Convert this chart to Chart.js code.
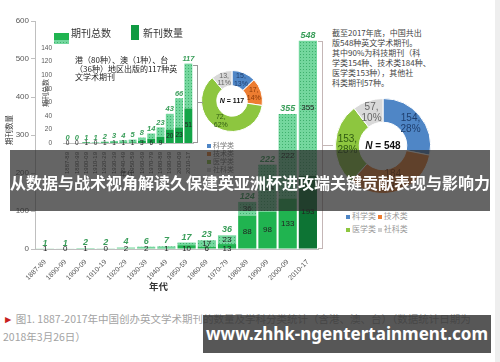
<!DOCTYPE html>
<html>
<head>
<meta charset="utf-8">
<script src="https://cdn.jsdelivr.net/npm/chart.js@4/dist/chart.umd.min.js"></script>
<style>
body{margin:0;background:#fff;font-family:"Noto Sans CJK SC","Noto Sans",sans-serif;}
#page{position:relative;width:500px;height:362px;overflow:hidden;background:#fff;}
#page canvas{position:absolute;}
.t{position:absolute;white-space:nowrap;}
.rot{position:absolute;white-space:nowrap;transform:translate(-50%,-50%) rotate(-90deg);}
.ln{position:absolute;background:#c4b6b6;}
.sq{display:inline-block;width:4px;height:4px;margin-right:2px;vertical-align:middle;}
</style>
</head>
<body>
<div id="page">
  <canvas id="main" width="330" height="300" style="left:0;top:0"></canvas>
  <canvas id="inset" width="165" height="170" style="left:38px;top:38px"></canvas>
  <canvas id="pieHk" width="62" height="62" style="left:201px;top:70px"></canvas>
  <canvas id="pieAll" width="96" height="96" style="left:335px;top:98px"></canvas>

  <!-- main legend -->
  <div class="t" style="left:54px;top:25px;width:15px;height:8px" id="legTop"></div>
  <div class="t" style="left:54px;top:33px;width:15px;height:7px;background:#20b450"></div>
  <div class="t" style="left:71px;top:25px;font-size:10px;line-height:15px;color:#333">期刊总数</div>
  <div class="t" style="left:131px;top:25px;width:8px;height:15px;background:#109a42"></div>
  <div class="t" style="left:143px;top:25px;font-size:10px;line-height:15px;color:#333">新刊数量</div>

  <div class="rot" style="left:8px;top:130px;font-size:7.5px;color:#333">期刊数量</div>
  <div class="t" style="left:149px;top:279px;font-size:9.5px;font-weight:bold;color:#333">年代</div>

  <!-- inset texts -->
  <div class="rot" style="left:45px;top:93px;font-size:7px;color:#444">期刊总数</div>
  <div class="t" style="left:75px;top:56px;font-size:8px;line-height:8.5px;color:#222">港（80种）、澳（1种）、台<br>（36种）地区出版的117种英<br>文学术期刊</div>
  <div class="t" style="left:120px;top:168px;font-size:7px;color:#444">年代</div>

  <!-- doughnut legends -->
  <div class="t" style="left:207px;top:141px;font-size:7px;line-height:8px;color:#777">
    <span class="sq" style="background:#4f86c6"></span>科学类<br>
    <span class="sq" style="background:#ed7d31"></span>技术类<br>
    <span class="sq" style="background:#8dc63f"></span>医学类<br>
    <span class="sq" style="background:#d0d0d0"></span>社科类</div>
  <div class="t" style="left:346px;top:209px;font-size:8px;line-height:13px;color:#999">
    <span class="sq" style="background:#4f86c6"></span>科学类 <span class="sq" style="background:#ed7d31"></span>技术类<br>
    <span class="sq" style="background:#8dc63f"></span>医学类 <span class="sq" style="background:#d0d0d0"></span>社科类</div>

  <div class="t" style="left:332px;top:28px;font-size:8px;line-height:10px;color:#444">截至2017年底，中国共出<br>版548种英文学术期刊。<br>其中90%为科技期刊（科<br>学类154种、技术类184种、<br>医学类153种），其他社<br>科类期刊57种。</div>

  <!-- brackets -->
  <div class="ln" style="left:322px;top:41px;width:1px;height:208px"></div>
  <div class="ln" style="left:318px;top:41px;width:4px;height:1px"></div>
  <div class="ln" style="left:318px;top:248px;width:4px;height:1px"></div>
  <div class="ln" style="left:322px;top:145px;width:11px;height:1px"></div>
  <div class="ln" style="left:197px;top:65px;width:1px;height:78px;background:#999"></div>
  <div class="ln" style="left:193px;top:65px;width:4px;height:1px;background:#999"></div>
  <div class="ln" style="left:193px;top:142px;width:4px;height:1px;background:#999"></div>
  <div class="ln" style="left:197px;top:102px;width:6px;height:1px;background:#999"></div>

  <div class="t" style="left:495px;top:0;width:5px;height:362px;background:#eeeeee"></div>

  <!-- caption -->
  <div class="t" style="left:3px;top:310px;font-size:10.5px;line-height:18px;color:#a3a3a3"><span style="color:#c81e1e">►</span> 图1. 1887-2017年中国创办英文学术期刊的数量及学科分类统计（含港、澳、台）（数据统计日期为<br>2018年3月26日）</div>

  <!-- overlays -->
  <div class="t" style="left:10px;top:150px;width:480px;height:61px;background:rgba(42,42,42,0.72);color:#fff;font-size:16px;font-weight:bold;line-height:64px;text-align:center">从数据与战术视角解读久保建英亚洲杯进攻端关键贡献表现与影响力</div>
  <div class="t" style="left:203px;top:315px;width:288px;height:38px;background:rgba(50,50,50,0.82);color:#fff;font-family:'Noto Sans',sans-serif;font-size:17px;font-weight:bold;line-height:38px;text-align:center">www.zhhk-ngentertainment.com</div>
</div>

<script>
// decades on the x axis
const decades = ['1887-89', '1890-99', '1900-09', '1910-19', '1920-29', '1930-39', '1940-49',
  '1950-59', '1960-69', '1970-79', '1980-89', '1990-99', '2000-09', '2010-17'];

// all journals: total, new in the decade, total before the decade
const totalCount = [1, 1, 2, 2, 4, 6, 7, 17, 23, 36, 124, 222, 355, 548];
const newCount = [1, 0, 1, 0, 2, 2, 1, 10, 6, 13, 88, 98, 133, 193];
const prevCount = [0, 1, 1, 2, 2, 4, 6, 7, 17, 23, 36, 124, 222, 355];

// Hong Kong, Macau, Taiwan journals
const hkTotal = [0, 0, 1, 1, 2, 3, 4, 5, 8, 14, 23, 43, 66, 117];
const hkNew = [0, 0, 1, 0, 1, 1, 1, 1, 3, 6, 9, 20, 23, 51];
const hkPrev = [0, 0, 0, 1, 1, 2, 3, 4, 5, 8, 14, 23, 43, 66];

// subject split
const subjects = ['科学类', '技术类', '医学类', '社科类'];
const hkSubject = [15, 17, 72, 13];
const hkPercent = ['13%', '14%', '62%', '11%'];
const allSubject = [154, 184, 153, 57];
const allPercent = ['28%', '34%', '28%', '10%'];

const numFont = '"Liberation Sans", "Noto Sans CJK SC", sans-serif';
const pieColors = ['#4f86c6', '#ed7d31', '#8dc63f', '#d9d9d9'];
const pieText = ['#1f3f6e', '#8a3a08', '#2f5a12', '#666666'];

function dotted() {
  const c = document.createElement('canvas');
  c.width = 3; c.height = 3;
  const x = c.getContext('2d');
  x.fillStyle = '#74d79e';
  x.fillRect(0, 0, 3, 3);
  x.fillStyle = '#3fb06d';
  x.fillRect(0, 0, 1, 1);
  return x.createPattern(c, 'repeat');
}

// legend swatch top half
(function () {
  const c = document.createElement('canvas');
  c.width = 15; c.height = 8;
  const x = c.getContext('2d');
  x.fillStyle = dotted();
  x.fillRect(0, 0, 15, 8);
  document.getElementById('legTop').appendChild(c);
  c.style.position = 'static';
})();

function stackLabels(totals, news, prevs, s) {
  return {
    id: 'stackLabels',
    afterDatasetsDraw(chart) {
      const ctx = chart.ctx;
      const newMeta = chart.getDatasetMeta(0);
      const prevMeta = chart.getDatasetMeta(1);
      ctx.save();
      ctx.textAlign = 'center';
      newMeta.data.forEach((bar, i) => {
        const top = prevMeta.data[i];
        ctx.font = s.totalFont;
        ctx.fillStyle = '#3a9e5a';
        ctx.textBaseline = 'bottom';
        ctx.fillText(totals[i], top.x, top.y - 1);

        ctx.font = s.innerFont;
        ctx.fillStyle = '#222';
        ctx.textBaseline = 'middle';
        const h = bar.base - bar.y;
        ctx.fillText(news[i], bar.x, h > s.minH ? (bar.y + bar.base) / 2 : bar.base);
        if (s.prevMin && prevs[i] >= s.prevMin) {
          ctx.fillText(prevs[i], top.x, (top.y + top.base) / 2);
        }
      });
      ctx.restore();
    }
  };
}

const pattern = dotted();

new Chart(document.getElementById('main'), {
  type: 'bar',
  data: {
    labels: decades,
    datasets: [
      { label: '新刊数量', data: newCount, stack: 'a',
        backgroundColor: newCount.map((v, i) => i === newCount.length - 1 ? '#0d7434' : '#20b450') },
      { label: '期刊总数', data: prevCount, stack: 'a', backgroundColor: pattern }
    ]
  },
  options: {
    responsive: false,
    animation: false,
    barPercentage: 0.9,
    categoryPercentage: 1,
    layout: { padding: { top: 21, right: 12, left: 0, bottom: 0 } },
    plugins: { legend: { display: false }, tooltip: { enabled: false } },
    scales: {
      x: {
        stacked: true,
        grid: { display: false },
        border: { color: '#bfbfbf' },
        ticks: { autoSkip: false, minRotation: 45, maxRotation: 45, color: '#555', padding: 1,
          font: { size: 7, family: numFont } },
        afterFit(s) { s.height = 51; }
      },
      y: {
        stacked: true,
        min: 0, max: 600,
        grid: { drawOnChartArea: false, tickLength: 4, color: '#bfbfbf' },
        border: { color: '#bfbfbf' },
        ticks: { stepSize: 100, color: '#595959', padding: 2, font: { size: 8, family: numFont } },
        afterFit(s) { s.width = 35; }
      }
    }
  },
  plugins: [stackLabels(totalCount, newCount, prevCount,
    { totalFont: 'italic bold 9px ' + numFont, innerFont: '8px ' + numFont, minH: 9, prevMin: 15 })]
});

new Chart(document.getElementById('inset'), {
  type: 'bar',
  data: {
    labels: decades,
    datasets: [
      { label: '新刊数量', data: hkNew, stack: 'a', backgroundColor: '#14a548' },
      { label: '期刊总数', data: hkPrev, stack: 'a', backgroundColor: pattern }
    ]
  },
  options: {
    responsive: false,
    animation: false,
    barPercentage: 0.85,
    categoryPercentage: 1,
    layout: { padding: { top: 10, right: 10, left: 0, bottom: 0 } },
    plugins: { legend: { display: false }, tooltip: { enabled: false } },
    scales: {
      x: {
        stacked: true,
        grid: { display: false },
        border: { color: '#bfbfbf' },
        ticks: { autoSkip: false, minRotation: 90, maxRotation: 90, color: '#555', padding: 1,
          font: { size: 6, family: numFont } },
        afterFit(s) { s.height = 65; }
      },
      y: {
        stacked: true,
        min: 0, max: 140,
        grid: { display: false },
        border: { display: false },
        ticks: { stepSize: 20, color: '#595959', padding: 3, font: { size: 6.5, family: numFont } },
        afterFit(s) { s.width = 25; }
      }
    }
  },
  plugins: [stackLabels(hkTotal, hkNew, hkPrev,
    { totalFont: 'italic bold 7.5px ' + numFont, innerFont: '6.5px ' + numFont, minH: 7, prevMin: 0 })]
});

function pieLabels(values, percents, center, size) {
  return {
    id: 'pieLabels',
    afterDatasetsDraw(chart) {
      const ctx = chart.ctx;
      const meta = chart.getDatasetMeta(0);
      ctx.save();
      ctx.textAlign = 'center';
      ctx.textBaseline = 'middle';
      ctx.font = size + 'px ' + numFont;
      meta.data.forEach((arc, i) => {
        const p = arc.tooltipPosition();
        ctx.fillStyle = pieText[i];
        ctx.fillText(values[i] + ',', p.x, p.y - size * 0.55);
        ctx.fillText(percents[i], p.x, p.y + size * 0.55);
      });
      const a = meta.data[0];
      ctx.fillStyle = '#111';
      ctx.font = 'italic bold ' + size + 'px ' + numFont;
      const rest = ' = ' + center;
      ctx.textAlign = 'left';
      const wN = ctx.measureText('N').width;
      ctx.font = 'bold ' + size + 'px ' + numFont;
      const wR = ctx.measureText(rest).width;
      const x0 = a.x - (wN + wR) / 2;
      ctx.font = 'italic bold ' + size + 'px ' + numFont;
      ctx.fillText('N', x0, a.y);
      ctx.font = 'bold ' + size + 'px ' + numFont;
      ctx.fillText(rest, x0 + wN, a.y);
      ctx.restore();
    }
  };
}

function pie(id, values, percents, center, size) {
  new Chart(document.getElementById(id), {
    type: 'doughnut',
    data: { labels: subjects, datasets: [{ data: values, backgroundColor: pieColors, borderColor: '#fff', borderWidth: 1 }] },
    options: {
      responsive: false,
      animation: false,
      cutout: '50%',
      plugins: { legend: { display: false }, tooltip: { enabled: false } }
    },
    plugins: [pieLabels(values, percents, center, size)]
  });
}

pie('pieHk', hkSubject, hkPercent, 117, 7);
pie('pieAll', allSubject, allPercent, 548, 10);
</script>
</body>
</html>
